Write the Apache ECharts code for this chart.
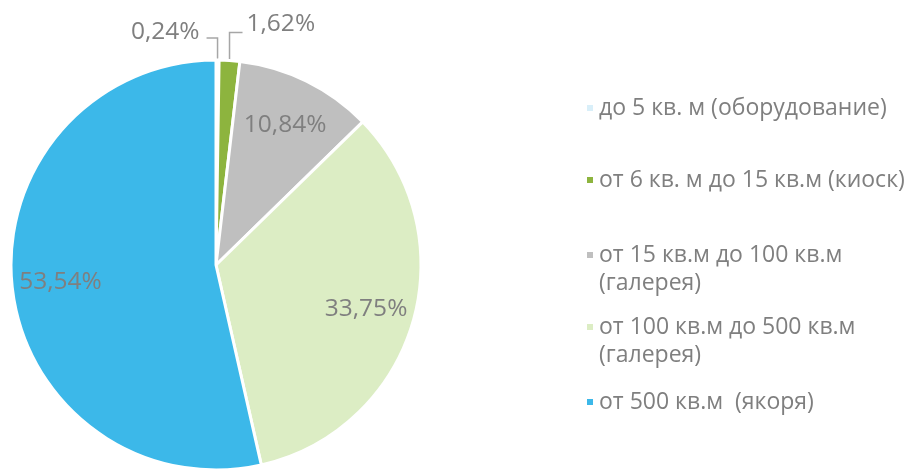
<!DOCTYPE html>
<html>
<head>
	<meta charset="utf-8">
	<script src="https://cdn.jsdelivr.net/npm/echarts@6/dist/echarts.min.js"></script>
	<style>
		html, body { margin: 0; padding: 0; background: #fff; }
		#chart { width: 917px; height: 469px; }
	</style>
</head>
<body>
<div id="chart"></div>
<script>
	// категории площадей и доли, %
	var categories = ['до 5 кв. м (оборудование)', 'от 6 кв. м до 15 кв.м (киоск)', 'от 15 кв.м до 100 кв.м\n(галерея)', 'от 100 кв.м до 500 кв.м\n(галерея)', 'от 500 кв.м  (якоря)'];
	var shares = [0.24, 1.62, 10.84, 33.75, 53.54];
	var colors = ['#d9eff9', '#8db43e', '#bfbfbf', '#dcedc4', '#3cb8e9'];
	var legendTops = [94, 166, 213, 285, 388];

	var textColor = '#7f7f7f';
	var font = '"Open Sans", "Noto Sans", sans-serif';
	var labelSize = 24.5;

	function fmt(v) {
		return v.toFixed(2).replace('.', ',') + '%';
	}

	var mainData = [];
	var innerData = [];
	for (var i = 0; i < categories.length; i++) {
		var small = shares[i] < 5;
		mainData.push({
			name: categories[i],
			value: shares[i],
			itemStyle: { color: colors[i] },
			label: { show: small },
			labelLine: { show: small }
		});
		innerData.push({
			name: categories[i],
			value: shares[i],
			label: { show: !small }
		});
	}

	var legends = [];
	for (var k = 0; k < categories.length; k++) {
		legends.push({
			data: [categories[k]],
			orient: 'vertical',
			left: 585,
			top: legendTops[k],
			padding: 0,
			itemWidth: 8,
			itemHeight: 8,
			icon: 'rect',
			selectedMode: false,
			// у двухстрочных подписей пустая строка сверху, чтобы маркер стоял у первой строки
			formatter: function (name) {
				return name.indexOf('\n') >= 0 ? ' \n' + name : name;
			},
			textStyle: {
				color: textColor,
				fontFamily: font,
				fontSize: 23,
				lineHeight: 28
			}
		});
	}

	var chart = echarts.init(document.getElementById('chart'), null, { renderer: 'canvas' });
	chart.setOption({
		animation: false,
		color: colors,
		legend: legends,
		series: [
			{
				type: 'pie',
				center: [216, 265],
				radius: 205,
				startAngle: 90,
				clockwise: true,
				silent: true,
				itemStyle: { borderColor: '#fff', borderWidth: 3 },
				label: {
					position: 'outside',
					color: textColor,
					fontFamily: font,
					fontSize: labelSize,
					formatter: function (p) { return fmt(p.value); }
				},
				labelLine: {
					lineStyle: { color: '#a6a6a6', width: 1.5 }
				},
				labelLayout: function (p) {
					var pts = p.labelLinePoints;
					if (!pts) return {};
					var x0 = pts[0][0], y0 = pts[0][1];
					if (p.dataIndex === 0) {
						return {
							x: x0 - 18, y: y0 - 28, align: 'right', verticalAlign: 'middle',
							labelLinePoints: [[x0, y0], [x0, y0 - 22], [x0 - 11, y0 - 22]]
						};
					}
					return {
						x: x0 + 17, y: y0 - 36, align: 'left', verticalAlign: 'middle',
						labelLinePoints: [[x0, y0], [x0, y0 - 28], [x0 + 13, y0 - 28]]
					};
				},
				data: mainData
			},
			{
				// прозрачное кольцо только для подписей внутри секторов
				type: 'pie',
				center: [216, 265],
				radius: [102, 205],
				startAngle: 90,
				clockwise: true,
				silent: true,
				itemStyle: { color: 'rgba(0,0,0,0)' },
				label: {
					position: 'inside',
					color: textColor,
					fontFamily: font,
					fontSize: labelSize,
					formatter: function (p) { return fmt(p.value); }
				},
				labelLine: { show: false },
				data: innerData
			}
		]
	});
</script>
</body>
</html>
